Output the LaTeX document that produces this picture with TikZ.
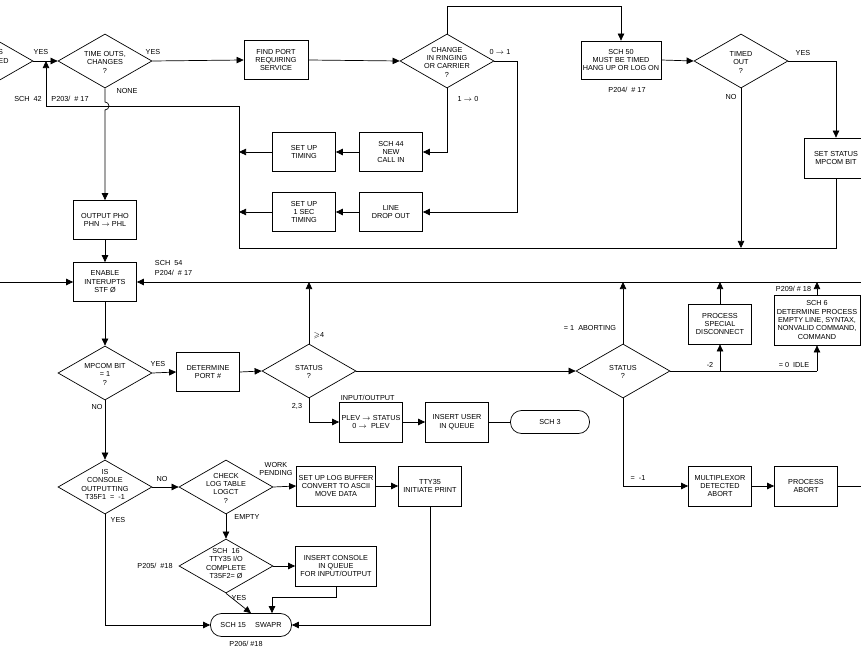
\documentclass[tikz,border=0pt]{standalone}
\usepackage{fontspec}
\setmainfont{Liberation Sans}
\setsansfont{Liberation Sans}
\usepackage{amssymb}
\usetikzlibrary{arrows.meta,shapes.geometric}

\begin{document}
\begin{tikzpicture}[x=0.03cm, y=-0.03cm, line width=0.6pt,
  font=\sffamily\fontsize{6.2}{7.2}\selectfont,
  box/.style={draw, rectangle, minimum width=1.89cm, minimum height=1.17cm, inner sep=1pt, align=center},
  dec/.style={draw, diamond, minimum width=2.82cm, minimum height=1.62cm, inner sep=0pt},
  dtext/.style={label={[align=center, yshift=-1pt]center:{#1}}},
  dtextup/.style={label={[align=center, yshift=2pt]center:{#1}}},
  term/.style={draw, rectangle, rounded corners=0.33cm, minimum width=2.43cm, minimum height=0.69cm},
  flow/.style={-{Triangle[length=6pt,width=5.5pt]}},
  tag/.style={inner sep=0.5pt}]
\clip (0,0) rectangle (861,649);

% top row: scan for ports
\node[dec] (prevdec) at (-14,61) {};
\node[tag, anchor=east] (prevs) at (4,52) {S};
\node[tag, anchor=east] (preved) at (9.5,61) {ED};
\node[dec, dtext={TIME OUTS,\\ CHANGES\\ ?}] (timeouts) at (105,61) {};
\node[box, minimum width=1.92cm] (findport) at (276,60) {FIND PORT\\ REQUIRING\\ SERVICE};
\node[dec, dtext={CHANGE\\ IN RINGING\\ OR CARRIER\\ ?}] (change) at (447,61) {};
\node[box, minimum width=2.4cm, minimum height=1.14cm] (sch50) at (621,60) {SCH 50\\ MUST BE TIMED\\ HANG UP OR LOG ON};
\node[dec, dtext={TIMED\\ OUT\\ ?}] (timedout) at (741,61) {};
\node[box, minimum width=1.92cm, minimum height=1.2cm] (setstatus) at (836,158) {SET STATUS\\ MPCOM BIT};

% ringing / carrier changes
\node[box] (sch44) at (391,152) {SCH 44\\ NEW\\ CALL IN};
\node[box] (setup) at (304,152) {SET UP\\ TIMING};
\node[box] (dropout) at (391,212) {LINE\\ DROP OUT};
\node[box] (setupsec) at (304,212) {SET UP\\ 1 SEC\\ TIMING};

\coordinate (topjog) at (0,6);
\coordinate (rjog) at (517,0);
\coordinate (loopSW) at (239,248);
\coordinate (loopNW) at (239,106);
\coordinate (loopin) at (46,106);
\coordinate (yesjoin) at (46,61);
\coordinate (hop) at (105,102);

% left column
\node[box] (output) at (105,220) {OUTPUT PHO\\ PHN $\rightarrow$ PHL};
\node[box] (enable) at (105,282) {ENABLE\\ INTERUPTS\\ STF \O};
\node[dec, dtext={MPCOM BIT\\ = 1\\ ?}] (mpcom) at (105,373) {};
\node[box] (determine) at (208,372) {DETERMINE\\ PORT \#};
\node[dec, dtext={STATUS\\ ?}] (status) at (309,371) {};
\node[box, minimum height=1.2cm] (plev) at (371,422) {PLEV $\rightarrow$ STATUS\\ 0 $\rightarrow$ \ PLEV};
\node[box, minimum height=1.2cm] (insuser) at (457,422) {INSERT USER\\ IN QUEUE};
\node[term, minimum width=2.37cm] (sch3) at (550,422) {SCH 3};

% status dispatch
\node[dec, dtext={STATUS\\ ?}] (status2) at (623,371) {};
\node[box, minimum height=1.2cm] (special) at (720,324) {PROCESS\\ SPECIAL\\ DISCONNECT};
\node[box, minimum width=2.58cm, minimum height=1.5cm] (sch6) at (817,320) {SCH 6\\ DETERMINE PROCESS\\ EMPTY LINE, SYNTAX,\\ NONVALID COMMAND,\\ COMMAND};
\node[box, minimum height=1.2cm] (multiplexor) at (720,486) {MULTIPLEXOR\\ DETECTED\\ ABORT};
\node[box, minimum height=1.2cm] (abort) at (806,486) {PROCESS\\ ABORT};

\coordinate (leftin) at (0,282);
\coordinate (rightin) at (861,282);
\coordinate (rightout) at (861,486);

% console section
\node[dec, dtextup={IS\\ CONSOLE\\ OUTPUTTING\\ T35F1 \ = \ -1}] (console) at (105,487) {};
\node[dec, dtext={CHECK\\ LOG TABLE\\ LOGCT\\ ?}] (checklog) at (226,487) {};
\node[dec, dtextup={SCH \ 16\\ TTY35 I/O\\ COMPLETE\\ T35F2= \O}] (sch16) at (226,566) {};
\node[box, minimum width=2.37cm, minimum height=1.2cm] (logbuf) at (336,486) {SET UP LOG BUFFER\\ CONVERT TO ASCII\\ MOVE DATA};
\node[box, minimum height=1.2cm] (tty) at (430,486) {TTY35\\ INITIATE PRINT};
\node[box, minimum width=2.43cm, minimum height=1.2cm] (inscons) at (336,566) {INSERT CONSOLE\\ IN QUEUE\\ FOR INPUT/OUTPUT};
\node[term] (swapr) at (251,625) {SCH 15 \quad SWAPR};

% connectors
\draw[flow] (prevdec.east) -- (timeouts.west);
\draw[flow] (timeouts.east) -- (findport.west);
\draw[flow] (findport.east) -- (change.west);
\draw[flow] (change.north) -- (change.north |- topjog) -| (sch50.north);
\draw[flow] (sch50.east) -- (timedout.west);
\draw[flow] (timedout.east) -| (setstatus.north);
\draw[flow] (timedout.south) -- (timedout.south |- loopSW);
\draw[flow] (setstatus.south) |- (loopSW) -- (loopNW) -- (loopin) -- (yesjoin);
\draw[flow] (timeouts.south) -- (hop) arc[start angle=90, end angle=-90, radius=3.4pt] -- (output.north);
\draw[flow] (change.south) |- (sch44.east);
\draw[flow] (change.east) -| (rjog |- dropout.east) -- (dropout.east);
\draw[flow] (sch44.west) -- (setup.east);
\draw[flow] (setup.west) -- (setup.west -| loopNW);
\draw[flow] (dropout.west) -- (setupsec.east);
\draw[flow] (setupsec.west) -- (setupsec.west -| loopNW);

\draw[flow] (output.south) -- (enable.north);
\draw[flow] (leftin) -- (enable.west);
\draw[flow] (rightin) -- (enable.east);
\draw[flow] (enable.south) -- (mpcom.north);
\draw[flow] (mpcom.east) -- (determine.west);
\draw[flow] (determine.east) -- (status.west);
\draw[flow] (status.north) -- (status.north |- rightin);
\draw[flow] (status.east) -- (status2.west);
\draw[flow] (status.south) |- (plev.west);
\draw[flow] (plev.east) -- (insuser.west);
\draw (insuser.east) -- (sch3.west);
\draw[flow] (status2.north) -- (status2.north |- rightin);
\draw (status2.east) -- (sch6.south |- status2.east);
\draw[flow] (sch6.south |- status2.east) -- (sch6.south);
\draw[flow] (special.south |- status2.east) -- (special.south);
\draw[flow] (special.north) -- (special.north |- rightin);
\draw[flow] (sch6.north) -- (sch6.north |- rightin);
\draw[flow] (status2.south) |- (multiplexor.west);
\draw[flow] (multiplexor.east) -- (abort.west);
\draw (abort.east) -- (rightout);

\draw[flow] (mpcom.south) -- (console.north);
\draw[flow] (console.east) -- (checklog.west);
\draw[flow] (checklog.east) -- (logbuf.west);
\draw[flow] (logbuf.east) -- (tty.west);
\draw[flow] (tty.south) |- (swapr.east);
\draw[flow] (checklog.south) -- (sch16.north);
\draw[flow] (sch16.east) -- (inscons.west);
\draw[flow] (sch16.south) -- (swapr.north);
\draw[flow] (inscons.south) -- ++(0,11) -| ([xshift=0.63cm]swapr.north);
\draw[flow] (console.south) |- (swapr.west);

% branch labels and page refs
\foreach \n/\p/\t in {lyesa/{41,52}/YES, lyesb/{153,52}/YES, lnone/{127,91}/NONE,
    lsch42/{28,99}/SCH \ 42, lp203/{70,99}/{P203/ \ \# 17}, lzero/{500,52}/0 $\rightarrow$ 1,
    lone/{468,99}/1 $\rightarrow$ 0, lyesc/{803,53}/YES, lnoa/{731,97}/NO,
    lp204a/{627,90}/{P204/ \ \# 17}, lyesd/{158,364}/YES, lnob/{97,407}/NO,
    lge/{319,336}/$\geqslant$4, ltwo/{297,406}/{2,3}, lminus/{710,365}/-2,
    lidle/{794,365}/= 0 \ IDLE, lneg/{638,478}/= \ -1, lnoc/{162,479}/NO,
    lyese/{118,520}/YES, lempty/{247,517}/EMPTY, lp205/{155,566}/{P205/ \ \#18},
    lyesf/{239,598}/YES, lp206/{246,644}/{P206/ \#18}}{
  \node[tag] (\n) at (\p) {\t};
}
\node[tag, align=center] (lwork) at (276,469) {WORK\\ PENDING};
\node[tag, anchor=west] (lsch54) at (154,263) {SCH \ 54};
\node[tag, anchor=west] (lp204b) at (154,273) {P204/ \ \# 17};
\node[tag, anchor=west] (linout) at (340,398) {INPUT/OUTPUT};
\node[tag, anchor=east] (labort) at (617,328) {= 1 \ ABORTING};
\node[tag, anchor=west] (lp209) at (775,289) {P209/ \# 18};
\end{tikzpicture}
\end{document}
